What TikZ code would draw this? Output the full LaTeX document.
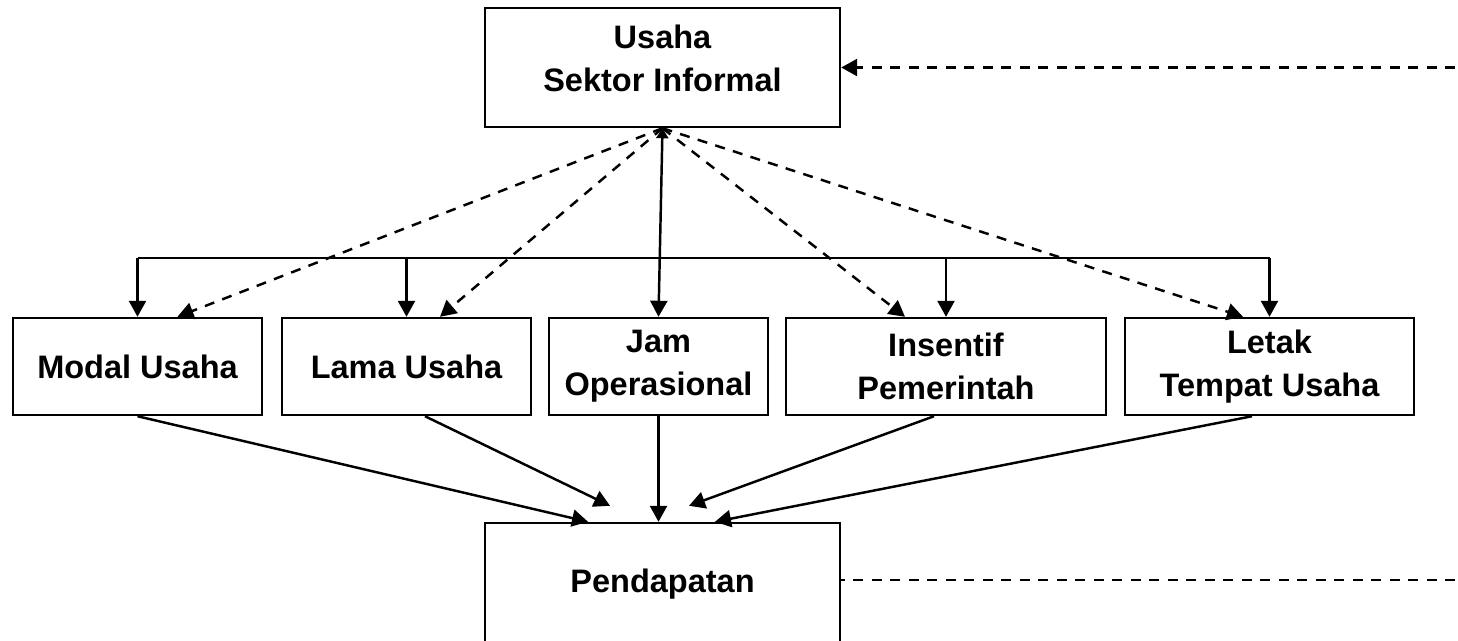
\documentclass[tikz,border=0pt]{standalone}
\usepackage{fontspec}
\setmainfont{Liberation Sans}
\usetikzlibrary{arrows.meta, positioning, calc}

\begin{document}
\begin{tikzpicture}[x=0.02cm, y=-0.02cm,
  varnode/.style={rectangle, draw=black, line width=1.4pt, fill=white, minimum height=1.94cm, font=\fontsize{18.5}{24.5}\selectfont\bfseries, align=center, inner sep=2pt},
  mainnode/.style={varnode, minimum width=7.1cm},
  arr/.style={-{Triangle[length=0.32cm, width=0.34cm]}, line width=1.4pt},
  dblarr/.style={{Triangle[length=0.2cm, width=0.24cm]}-{Triangle[length=0.32cm, width=0.34cm]}, line width=1.4pt},
  dasharr/.style={arr, dash pattern=on 0.2cm off 0.17cm},
  dashline/.style={line width=1.4pt, dash pattern=on 0.2cm off 0.17cm},
]
  \useasboundingbox (0,0) rectangle (1458,640);
  \clip (0,0) rectangle (1458,640);

  % Top: sector
  \node[mainnode, minimum height=2.38cm] (usaha) at (662.5, 67.5) {Usaha\\Sektor Informal\\[-14pt]\mbox{}};

  % Middle row: variables
  \node[varnode, minimum width=4.98cm] (modal) at (137.5, 366.5) {Modal Usaha};
  \node[varnode, minimum width=4.98cm] (lama) at (406.5, 366.5) {Lama Usaha};
  \node[varnode, minimum width=4.38cm] (jam) at (658.5, 366.5) {Jam\\Operasional};
  \node[varnode, minimum width=6.4cm] (insentif) at (946, 366.5) {Insentif\\Pemerintah};
  \node[varnode, minimum width=5.78cm] (letak) at (1269.5, 366.5) {Letak\\Tempat Usaha};

  % Bottom: income
  \node[mainnode, minimum height=2.44cm] (pend) at (662.5, 584) {Pendapatan};

  % Bus line with drops
  \coordinate (bus) at (0, 258);
  \draw[line width=1.4pt] (modal.north |- bus) -- (letak.north |- bus);
  \foreach \n in {modal, lama, insentif, letak}
    \draw[arr] (\n.north |- bus) -- (\n.north);
  \draw[dblarr] (usaha.south) -- (jam.north);

  % Dashed fan
  \draw[dasharr] (usaha.south) -- ([xshift=0.8cm]modal.north);
  \draw[dasharr] (usaha.south) -- ([xshift=0.67cm]lama.north);
  \draw[dasharr] (usaha.south) -- ([xshift=-0.82cm]insentif.north);
  \draw[dasharr] (usaha.south) -- ([xshift=-0.53cm]letak.north);

  % Into income
  \coordinate (inL) at ([xshift=-1.05cm, yshift=0.32cm]pend.north);
  \coordinate (inR) at ([xshift=0.53cm, yshift=0.32cm]pend.north);
  \draw[arr] (modal.south) -- ([xshift=-1.49cm]pend.north);
  \draw[arr] ([xshift=0.37cm]lama.south) -- (inL);
  \draw[arr] (jam.south) -- (jam.south |- pend.north);
  \draw[arr] ([xshift=-0.24cm]insentif.south) -- (inR);
  \draw[arr] ([xshift=-0.35cm]letak.south) -- ([xshift=1.05cm]pend.north);

  % Right side dashed links
  \coordinate (extU) at (1455, 67.5);
  \coordinate (extP) at (1455, 580);
  \draw[dasharr] (extU) -- (usaha.east);
  \draw[dashline] (extP) -- (extP -| pend.east);
\end{tikzpicture}
\end{document}
